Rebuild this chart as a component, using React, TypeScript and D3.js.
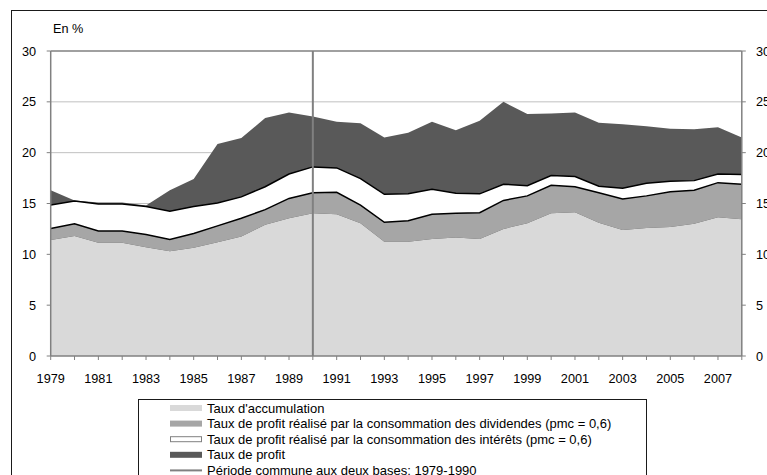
import React from "react";
import * as d3 from "d3";

const years = [1979,1980,1981,1982,1983,1984,1985,1986,1987,1988,1989,1990,1991,1992,1993,1994,1995,1996,1997,1998,1999,2000,2001,2002,2003,2004,2005,2006,2007,2008];
const accumulation = [11.4,11.8,11.15,11.15,10.7,10.3,10.65,11.2,11.75,12.9,13.55,14.05,13.95,13.05,11.25,11.25,11.5,11.65,11.5,12.5,13.05,14.05,14.15,13.1,12.4,12.6,12.7,13.0,13.65,13.45];
const dividendes = [1.15,1.2,1.15,1.15,1.25,1.15,1.4,1.6,1.8,1.5,1.95,2.0,2.15,1.8,1.9,2.05,2.45,2.4,2.6,2.8,2.7,2.75,2.5,2.95,3.05,3.15,3.45,3.3,3.4,3.45];
const interets = [2.3,2.25,2.65,2.65,2.75,2.8,2.65,2.25,2.1,2.25,2.4,2.55,2.4,2.6,2.75,2.65,2.45,1.95,1.85,1.6,1.0,0.95,1.0,0.65,1.05,1.25,1.05,0.95,0.85,0.95];
const profit = [16.3,15.3,15.1,15.1,14.8,16.3,17.4,20.85,21.45,23.4,23.95,23.55,23.05,22.9,21.5,21.95,23.05,22.2,23.15,25.0,23.8,23.85,23.95,22.95,22.8,22.6,22.35,22.3,22.5,21.5];
const yTicks = [0,5,10,15,20,25,30];
const xLabelYears = [1979,1981,1983,1985,1987,1989,1991,1993,1995,1997,1999,2001,2003,2005,2007];
const commonPeriodEnd = 1990;
const legendLabels = [
  "Taux d'accumulation",
  "Taux de profit réalisé par la consommation des dividendes (pmc = 0,6)",
  "Taux de profit réalisé par la consommation des intérêts (pmc = 0,6)",
  "Taux de profit",
  "Période commune aux deux bases: 1979-1990",
];

const FONT = "'Liberation Sans', Arial, sans-serif";

export default function App() {
  const x = d3.scaleLinear().domain([1979, 2008]).range([50.7, 741.8]);
  const y = d3.scaleLinear().domain([0, 30]).range([356, 51]);
  const left = x(1979), right = x(2008), top = y(30), bottom = y(0);

  const rows = years.map((yr, i) => ({
    year: yr,
    acc: accumulation[i],
    div: dividendes[i],
    int: interets[i],
    profit: profit[i],
  }));
  const stack = d3.stack<any>().keys(["acc", "div", "int"]);
  const series = stack(rows);

  const area = d3.area<any>().x((d: any) => x(d.data.year)).y0((d: any) => y(d[0])).y1((d: any) => y(d[1]));
  const topLine = d3.line<any>().x((d: any) => x(d.data.year)).y((d: any) => y(d[1]));
  const profitArea = d3.area<any>().x((d: any) => x(d.year)).y0(y(0)).y1((d: any) => y(d.profit));

  const fills = ["#d9d9d9", "#a6a6a6", "#ffffff"];

  const legendX = 170, legendY0 = 408, legendDy = 15.6;
  const axisFs = 12.7;

  return (
    <svg width={767} height={475} style={{ position: "absolute", left: 0, top: 0, background: "#fff" }} fontFamily={FONT}>
      <rect x={0} y={0} width={767} height={475} fill="#fff" />
      <rect x={11.5} y={10.5} width={800} height={500} fill="none" stroke="#1a1a1a" strokeWidth={1} />
      <text x={53} y={33} fontSize={axisFs} fill="#000">En %</text>

      {yTicks.filter(t => t > 0 && t < 30).map(t => (
        <line key={t} x1={left} x2={right} y1={y(t)} y2={y(t)} stroke="#c0c0c0" strokeWidth={1} />
      ))}

      <path d={profitArea(rows) || ""} fill="#595959" />

      {series.map((s, i) => (
        <path key={i} d={area(s as any) || ""} fill={fills[i]} />
      ))}
      {series.slice(1).map((s, i) => (
        <path key={"l" + i} d={topLine(s as any) || ""} fill="none" stroke="#000" strokeWidth={1.5} />
      ))}

      <line x1={left} x2={right} y1={top} y2={top} stroke="#808080" strokeWidth={1.5} />
      <line x1={left} x2={left} y1={top} y2={bottom} stroke="#808080" strokeWidth={1.5} />
      <line x1={right} x2={right} y1={top} y2={bottom} stroke="#808080" strokeWidth={1.5} />
      <line x1={left} x2={right} y1={bottom} y2={bottom} stroke="#808080" strokeWidth={1.5} />

      <line x1={x(commonPeriodEnd)} x2={x(commonPeriodEnd)} y1={top} y2={bottom} stroke="#808080" strokeWidth={2} />

      {yTicks.map(t => (
        <g key={t}>
          <line x1={left - 4} x2={left} y1={y(t)} y2={y(t)} stroke="#808080" strokeWidth={1} />
          <text x={36} y={y(t)} dy="0.36em" textAnchor="end" fontSize={axisFs} fill="#000">{t}</text>
          <line x1={right} x2={right + 4} y1={y(t)} y2={y(t)} stroke="#808080" strokeWidth={1} />
          <text x={756} y={y(t)} dy="0.36em" textAnchor="start" fontSize={axisFs} fill="#000">{t}</text>
        </g>
      ))}

      {years.map(yr => (
        <line key={yr} x1={x(yr)} x2={x(yr)} y1={bottom} y2={bottom + 4} stroke="#808080" strokeWidth={1} />
      ))}
      {xLabelYears.map(yr => (
        <text key={yr} x={x(yr)} y={378} dy="0.36em" textAnchor="middle" fontSize={axisFs} fill="#000">{yr}</text>
      ))}

      <rect x={138.5} y={399.5} width={508} height={100} fill="#fff" stroke="#1a1a1a" strokeWidth={1} />
      {legendLabels.map((lab, i) => {
        const cy = legendY0 + i * legendDy;
        let sw: any;
        if (i === 0) sw = <rect x={legendX} y={cy - 3} width={32} height={6} fill="#d9d9d9" />;
        else if (i === 1) sw = <rect x={legendX} y={cy - 3} width={32} height={6} fill="#a6a6a6" />;
        else if (i === 2) sw = <rect x={legendX + 0.5} y={cy - 2.5} width={31} height={5} fill="#fff" stroke="#808080" strokeWidth={1} />;
        else if (i === 3) sw = <rect x={legendX} y={cy - 3} width={32} height={6} fill="#595959" />;
        else sw = <line x1={legendX} x2={legendX + 32} y1={cy} y2={cy} stroke="#808080" strokeWidth={2} />;
        return (
          <g key={i}>
            {sw}
            <text x={207} y={cy} dy="0.36em" fontSize={13} fill="#000">{lab}</text>
          </g>
        );
      })}
    </svg>
  );
}
